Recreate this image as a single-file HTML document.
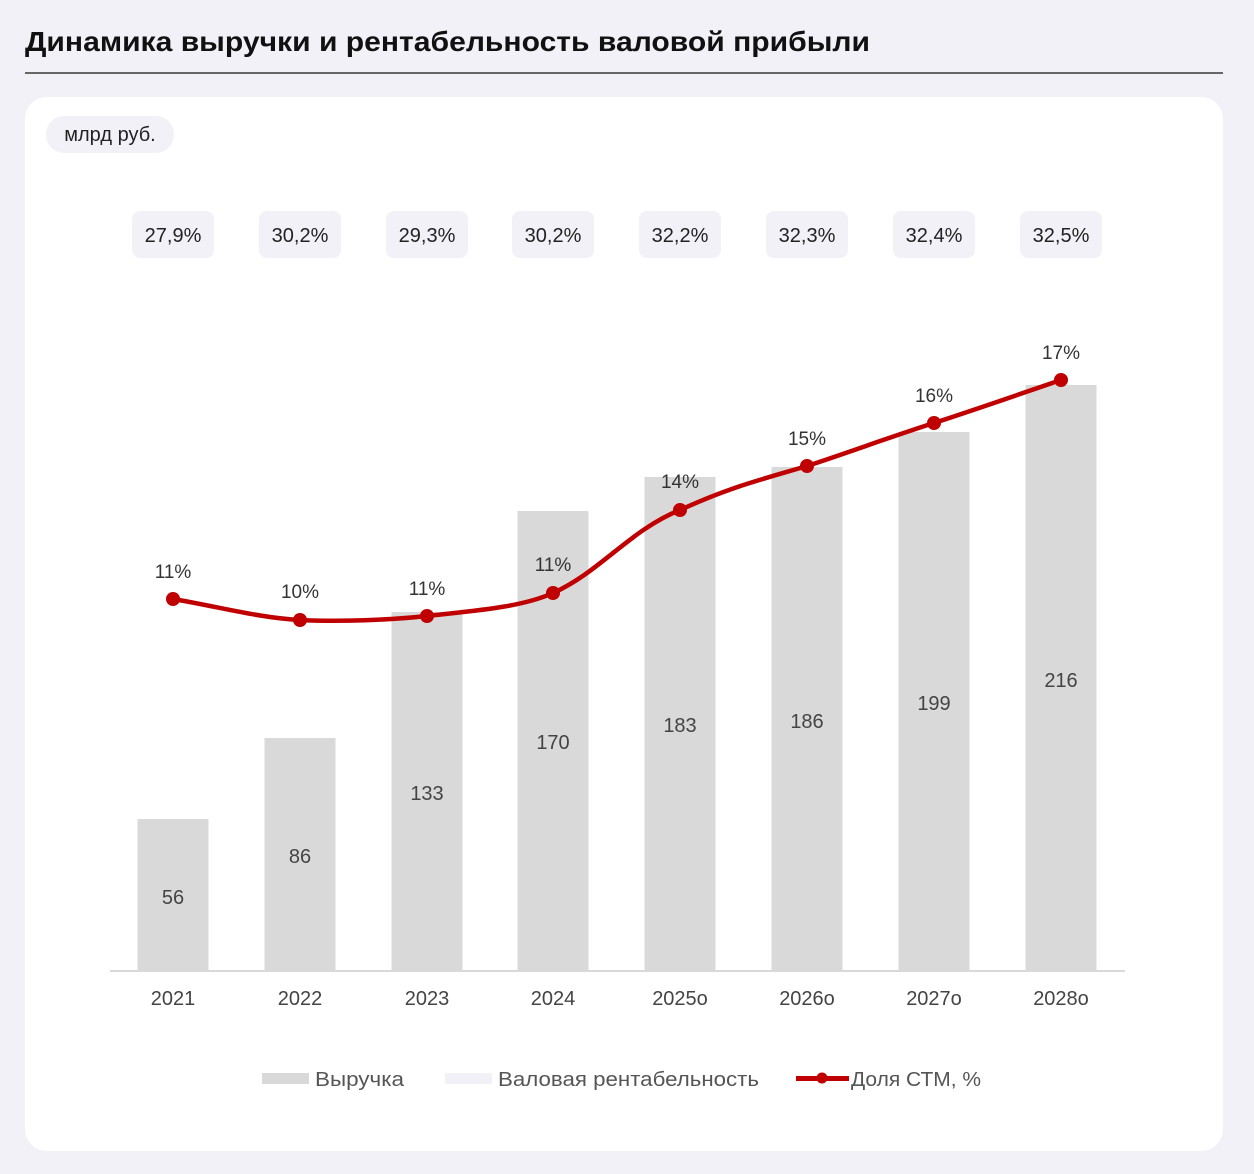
<!DOCTYPE html>
<html><head><meta charset="utf-8"><style>
body{margin:0;background:#f2f1f7;font-family:"Liberation Sans","DejaVu Sans",sans-serif;overflow:hidden;}
svg{display:block;}
</style></head><body>
<svg width="1254" height="1174" xmlns="http://www.w3.org/2000/svg" font-family="Liberation Sans, DejaVu Sans, sans-serif">
<rect width="1254" height="1174" fill="#f2f1f7"/>
<text x="25" y="51" font-size="28" font-weight="bold" fill="#111" textLength="845" lengthAdjust="spacingAndGlyphs">Динамика выручки и рентабельность валовой прибыли</text>
<rect x="25" y="72" width="1198" height="2" fill="#666"/>
<rect x="25" y="97" width="1198" height="1054" rx="22" fill="#fff"/>
<rect x="46" y="116" width="128" height="37" rx="18" fill="#f2f1f7"/>
<text x="110" y="141" font-size="20" fill="#222" text-anchor="middle">млрд руб.</text>
<g font-size="20" fill="#222" text-anchor="middle">
<rect x="132" y="211" width="82" height="47" rx="8" fill="#f2f1f7"/><text x="173" y="242">27,9%</text>
<rect x="259" y="211" width="82" height="47" rx="8" fill="#f2f1f7"/><text x="300" y="242">30,2%</text>
<rect x="386" y="211" width="82" height="47" rx="8" fill="#f2f1f7"/><text x="427" y="242">29,3%</text>
<rect x="512" y="211" width="82" height="47" rx="8" fill="#f2f1f7"/><text x="553" y="242">30,2%</text>
<rect x="639" y="211" width="82" height="47" rx="8" fill="#f2f1f7"/><text x="680" y="242">32,2%</text>
<rect x="766" y="211" width="82" height="47" rx="8" fill="#f2f1f7"/><text x="807" y="242">32,3%</text>
<rect x="893" y="211" width="82" height="47" rx="8" fill="#f2f1f7"/><text x="934" y="242">32,4%</text>
<rect x="1020" y="211" width="82" height="47" rx="8" fill="#f2f1f7"/><text x="1061" y="242">32,5%</text>
</g>
<g fill="#d9d9d9">
<rect x="137.5" y="819" width="71" height="152"/>
<rect x="264.5" y="738" width="71" height="233"/>
<rect x="391.5" y="612" width="71" height="359"/>
<rect x="517.5" y="511" width="71" height="460"/>
<rect x="644.5" y="477" width="71" height="494"/>
<rect x="771.5" y="467" width="71" height="504"/>
<rect x="898.5" y="432" width="71" height="539"/>
<rect x="1025.5" y="385" width="71" height="586"/>
</g>
<rect x="110" y="970" width="1015" height="2" fill="#d9d9d9"/>
<g font-size="20" fill="#444" text-anchor="middle">
<text x="173" y="904">56</text><text x="300" y="863">86</text><text x="427" y="800">133</text><text x="553" y="749">170</text>
<text x="680" y="732">183</text><text x="807" y="728">186</text><text x="934" y="710">199</text><text x="1061" y="687">216</text>
<text x="173" y="1005">2021</text><text x="300" y="1005">2022</text><text x="427" y="1005">2023</text><text x="553" y="1005">2024</text>
<text x="680" y="1005">2025o</text><text x="807" y="1005">2026o</text><text x="934" y="1005">2027o</text><text x="1061" y="1005">2028o</text>
</g>
<path d="M173,599 C220,607 260,618 300,620 C340,622 390,620 427,616 C470,611 520,608 553,593 C600,572 630,530 680,510 C730,487 760,480 807,466 C850,452 890,437 934,423 C980,408 1020,394 1061,380" fill="none" stroke="#c00000" stroke-width="4.5"/>
<g fill="#c00000">
<circle cx="173" cy="599" r="7"/><circle cx="300" cy="620" r="7"/><circle cx="427" cy="616" r="7"/><circle cx="553" cy="593" r="7"/>
<circle cx="680" cy="510" r="7"/><circle cx="807" cy="466" r="7"/><circle cx="934" cy="423" r="7"/><circle cx="1061" cy="380" r="7"/>
</g>
<g font-size="19" fill="#333" text-anchor="middle">
<text x="173" y="578">11%</text><text x="300" y="598">10%</text><text x="427" y="595">11%</text><text x="553" y="571">11%</text>
<text x="680" y="488">14%</text><text x="807" y="445">15%</text><text x="934" y="402">16%</text><text x="1061" y="359">17%</text>
</g>
<rect x="262" y="1073" width="47" height="11" fill="#d9d9d9"/>
<text x="315" y="1086" font-size="20" fill="#555" textLength="89" lengthAdjust="spacingAndGlyphs">Выручка</text>
<rect x="445" y="1073" width="47" height="11" fill="#f2f1f7"/>
<text x="498" y="1086" font-size="20" fill="#555" textLength="261" lengthAdjust="spacingAndGlyphs">Валовая рентабельность</text>
<rect x="796" y="1076" width="53" height="5" fill="#c00000"/>
<circle cx="822" cy="1078" r="5.5" fill="#c00000"/>
<text x="851" y="1086" font-size="20" fill="#555" textLength="130" lengthAdjust="spacingAndGlyphs">Доля СТМ, %</text>
</svg>
</body></html>
